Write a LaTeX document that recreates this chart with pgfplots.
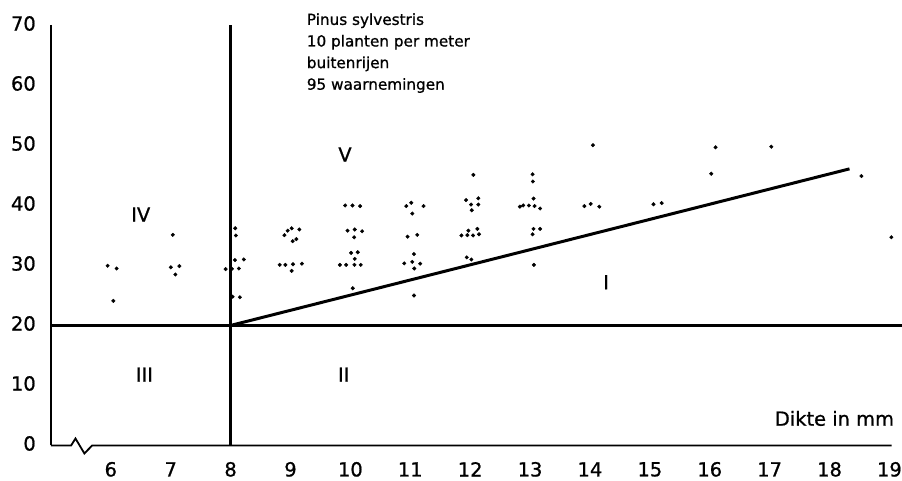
\documentclass[border=0pt]{standalone}
\usepackage{fontspec}
\setmainfont{DejaVu Sans}[FakeBold=0.9]
\usepackage{pgfplots}
\pgfplotsset{compat=1.18}
\begin{document}
\begin{tikzpicture}
\begin{axis}[
  x=60.1pt, y=6.02pt,
  xmin=5, xmax=19.21, ymin=0, ymax=70,
  scale only axis, clip=false,
  axis line style={draw=none},
  major tick length=0pt,
  xtick={6,...,19}, ytick={0,10,...,70},
  /pgf/number format/assume math mode=true,
  tick label style={font=\fontsize{19.5}{20}\selectfont},
  xticklabel style={anchor=center, inner sep=0pt, yshift=-24pt},
  yticklabel style={anchor=east, inner sep=0pt, xshift=-15pt, yshift=2pt},
]
% axes
\addplot[black, line width=1.6pt] coordinates {(5,70.1) (5,0)};
\addplot[black, line width=1.8pt] coordinates {(5,0) (5.338,0) (5.41,1.16) (5.559,-1.33) (5.69,0) (19.035,0)};
% dividing lines
\addplot[black, line width=2.6pt] coordinates {(8,0) (8,70.1)};
\addplot[black, line width=2.6pt] coordinates {(5,20) (19.21,20)};
\addplot[black, line width=3pt] coordinates {(8,20) (18.333,46.1)};
% observations
\addplot[only marks, mark=*, mark size=1.8pt, black] table {
x y
5.947 29.95
6.097 29.5
6.042 24.1
7.035 35.1
7.002 29.7
7.145 29.9
7.078 28.5
8.077 36.2
8.088 35.0
8.072 30.9
8.221 31.0
7.917 29.4
8.022 29.45
8.138 29.5
8.033 24.8
8.155 24.7
8.899 35.05
8.953 35.8
9.020 36.2
9.148 36.0
9.098 34.4
9.037 34.05
8.820 30.1
8.915 30.1
9.042 30.2
9.191 30.3
9.020 29.1
9.913 40.0
10.035 40.0
10.163 39.9
9.952 35.8
10.073 36.0
10.196 35.7
10.063 34.7
10.013 32.1
10.123 32.2
10.073 31.1
9.824 30.1
9.930 30.1
10.068 30.1
10.173 30.1
10.040 26.2
11.017 40.45
10.933 39.9
11.221 39.9
11.033 38.65
10.955 34.8
11.116 35.1
11.062 31.9
10.900 30.35
11.033 30.6
11.166 30.3
11.067 29.5
11.062 25.0
12.053 45.1
11.932 40.9
12.136 41.2
12.015 40.15
12.136 40.15
12.027 39.2
11.970 35.8
12.120 36.1
11.854 35.0
11.953 35.05
12.048 35.0
12.148 35.2
11.943 31.35
12.020 31.0
13.042 45.2
13.047 44.0
13.058 41.15
12.830 39.8
12.885 40.0
12.980 40.0
13.075 39.9
13.168 39.5
13.058 36.1
13.168 36.1
13.042 35.2
13.063 30.1
14.050 50.05
13.907 39.9
14.012 40.25
14.156 39.8
15.060 40.2
15.198 40.4
16.097 49.7
16.025 45.3
17.028 49.8
18.532 44.9
19.032 34.7
};
% annotations
\node[anchor=base west, inner sep=0pt, font=\fontsize{15.3}{18}\selectfont] at (axis cs:9.27,70.1) {Pinus sylvestris};
\node[anchor=base west, inner sep=0pt, font=\fontsize{15.3}{18}\selectfont] at (axis cs:9.27,66.5) {10 planten per meter};
\node[anchor=base west, inner sep=0pt, font=\fontsize{15.3}{18}\selectfont] at (axis cs:9.27,62.9) {buitenrijen};
\node[anchor=base west, inner sep=0pt, font=\fontsize{15.3}{18}\selectfont] at (axis cs:9.27,59.3) {95 waarnemingen};
\node[inner sep=0pt, font=\fontsize{19.5}{20}\selectfont] at (axis cs:6.50,38.5) {IV};
\node[inner sep=0pt, font=\fontsize{19.5}{20}\selectfont] at (axis cs:9.91,48.5) {V};
\node[inner sep=0pt, font=\fontsize{19.5}{20}\selectfont] at (axis cs:14.27,27.2) {I};
\node[inner sep=0pt, font=\fontsize{19.5}{20}\selectfont] at (axis cs:6.56,11.8) {III};
\node[inner sep=0pt, font=\fontsize{19.5}{20}\selectfont] at (axis cs:9.89,11.8) {II};
\node[anchor=east, inner sep=0pt, font=\fontsize{19.5}{20}\selectfont] at (axis cs:19.08,4.5) {Dikte in mm};
\coordinate (bbsw) at (axis cs:4.150,-5.81);
\coordinate (bbne) at (axis cs:19.21,74.25);
\end{axis}
\pgfresetboundingbox
\path (bbsw) rectangle (bbne);
\end{tikzpicture}
\end{document}
